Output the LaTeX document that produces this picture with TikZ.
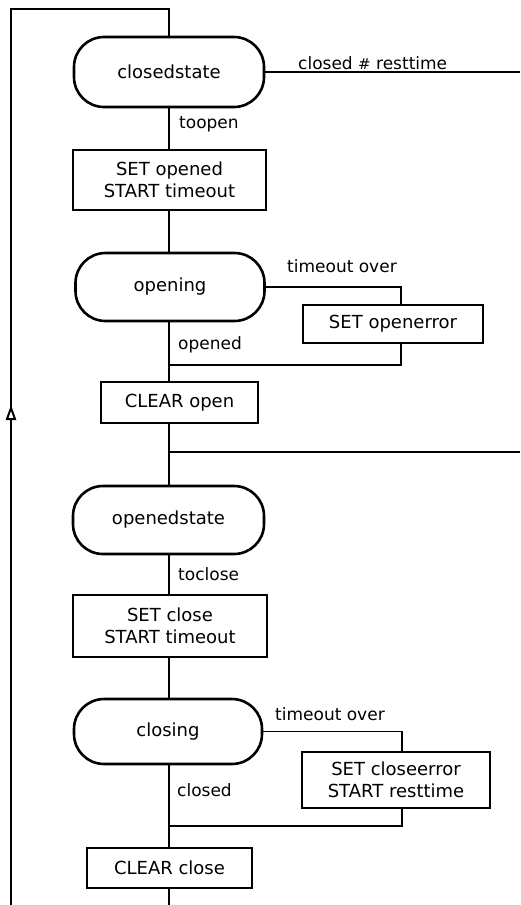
\documentclass[tikz,border=0pt]{standalone}
\usepackage{fontspec}
\setmainfont{DejaVu Sans}
\tikzset{
  conn/.style={line width=1.1pt, draw=black},
  statebox/.style={draw=black, line width=2.6pt, rectangle, rounded corners=30pt,
    font=\fontsize{18}{22}\selectfont, inner sep=0pt},
  actbox/.style={draw=black, line width=2.5pt, rectangle, align=center,
    font=\fontsize{18}{22}\selectfont, inner sep=0pt},
  lbl/.style={anchor=base west, inner sep=0pt, font=\fontsize{17}{20}\selectfont},
  flowtip/.style={draw=black, fill=white, line width=2pt, line join=miter},
}
\begin{document}
\begin{tikzpicture}[x=1pt, y=-1pt]
\useasboundingbox (0,0) rectangle (520,905);

% states and actions along the main column
\node[statebox, minimum width=190pt, minimum height=70pt] (cs) at (169,72) {closedstate};
\node[actbox, minimum width=193pt, minimum height=60pt] (s1) at (169.5,180) {SET opened\\START timeout};
\node[statebox, minimum width=189pt, minimum height=68pt] (op) at (170,287) {opening};
\node[actbox, minimum width=180pt, minimum height=38pt] (e1) at (393,324) {SET openerror};
\node[actbox, minimum width=157pt, minimum height=41pt] (c1) at (179.5,402.5) {CLEAR open};
\node[statebox, minimum width=191pt, minimum height=68pt] (os) at (168.5,520) {openedstate};
\node[actbox, minimum width=194pt, minimum height=62pt] (s2) at (170,626) {SET close\\START timeout};
\node[statebox, minimum width=188pt, minimum height=65pt] (cl) at (168,731.5) {closing};
\node[actbox, minimum width=188pt, minimum height=56pt] (e2) at (396,780) {SET closeerror\\START resttime};
\node[actbox, minimum width=165pt, minimum height=40pt] (c2) at (169.5,868) {CLEAR close};

% junctions and free ends
\coordinate (top) at (169,9);
\coordinate (lt) at (11,9);
\coordinate (lb) at (11,905);
\coordinate (la) at (11,408);
\coordinate (r1) at (520,72);
\coordinate (b1) at (401,287);
\coordinate (j1) at (169,365);
\coordinate (j2) at (169,452);
\coordinate (r2) at (520,452);
\coordinate (b2) at (402,731.5);
\coordinate (j3) at (169,826);
\coordinate (bot) at (169,905);

% return loop on the left, with its upward flow mark
\draw[conn] (lb) -- (la) -- (lt) -- (top) -- (cs.north);
\draw[flowtip] (la) -- ++(-4,11) -- ++(8,0) -- cycle;

% main column
\draw[conn] (cs.east) -- (r1);
\draw[conn] (cs.south -| top) -- (s1.north -| top);
\draw[conn] (s1.south -| top) -- (op.north -| top);
\draw[conn] (op.east) -- (b1) -- (b1 |- e1.north);
\draw[conn] (b1 |- e1.south) -- (b1 |- j1) -- (j1);
\draw[conn] (op.south -| top) -- (j1) -- (c1.north -| j1);
\draw[conn] (c1.south -| j1) -- (j2) -- (os.north -| j2);
\draw[conn] (j2) -- (r2);
\draw[conn] (os.south -| j2) -- (s2.north -| j2);
\draw[conn] (s2.south -| j2) -- (cl.north -| j2);
\draw[conn] (cl.east) -- (b2) -- (b2 |- e2.north);
\draw[conn] (b2 |- e2.south) -- (b2 |- j3) -- (j3);
\draw[conn] (cl.south -| j3) -- (j3) -- (c2.north -| j3);
\draw[conn] (c2.south -| j3) -- (bot);

% transition labels
\node[lbl] (t0) at (298,69) {closed {\fontsize{15}{15}\selectfont\#} resttime};
\node[lbl] (t1) at (179,128) {toopen};
\node[lbl] (t2) at (287,272) {timeout over};
\node[lbl] (t3) at (178,349) {opened};
\node[lbl] (t4) at (178,580) {toclose};
\node[lbl] (t5) at (275,720) {timeout over};
\node[lbl] (t6) at (177,796) {closed};
\end{tikzpicture}
\end{document}
